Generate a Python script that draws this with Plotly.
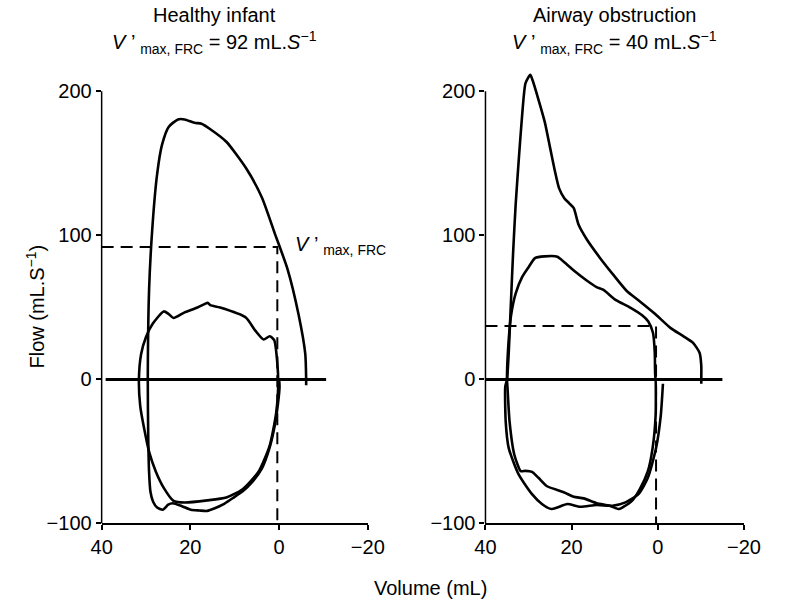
import plotly.graph_objects as go

W, H = 786, 613
FONT = "Liberation Sans, Arial, Helvetica, sans-serif"

# ---------------- data (volume mL, flow mL/s) ----------------
healthy_forced_vol = [0.0, -0.1, 0.3, 1.0, 2.2, 3.9, 6.0, 8.2, 10.5, 12.6, 14.5, 16.2, 18.0, 19.9, 21.9, 24.0, 25.0, 26.2, 27.5, 28.4, 29.0, 29.3, 29.5, 29.6,
                      29.3, 28.5, 27.5, 26.4, 24.9, 22.8, 21.3, 19.1, 17.5, 15.5, 11.9, 7.5, 3.9, 1.0, -1.9,
                      -4.4, -5.9, -6.1, -6.1]
healthy_forced_flow = [0, -5, -18, -32.3, -48, -61.9, -71, -77.7, -82.5, -86.8, -89.5, -91.3, -91, -90.5, -88, -86, -87, -90.5, -89, -85, -78, -65, -40, 0,
                       63, 108.4, 142.4, 162.8, 175.3, 180.5, 180.5, 178.2, 177.5, 173.7, 165, 146.9, 126.5, 101.6, 76.6,
                       44.9, 17.7, 0, -4]

healthy_tidal_vol = [0.2, 0.65, 2.1, 4.6, 8.3, 11.9, 16.2, 21.3, 23.8, 26.0, 27.8, 29.3, 30.4, 31.3, 31.6,
                     31.1, 30.0, 28.5, 26.0, 24.9, 23.8, 21.3, 18.4, 16.6, 16.1, 15.5, 13.3, 7.5, 5.4, 3.5, 2.1, 1.1, 0.4, 0.2]
healthy_tidal_flow = [-5, -23.1, -45.8, -63.9, -76.4, -82, -84, -85.5, -84.3, -75.3, -63.9, -50.3, -34.5, -18.6, 0,
                      17.7, 29.5, 38.6, 47.2, 45.4, 42.6, 46.5, 49.9, 52.6, 53.2, 51.5, 49.9, 43, 34, 27.7, 30, 27.2, 11.3, -5]

obstr_forced_vol = [-1.2, -0.7, 0.4, 2.3, 4.5, 7.5, 10.5, 14.2, 18.0, 21.0, 23.2, 24.7, 26.9, 29.2, 32.3, 34.6, 35.3, 35.4,
                    35.0, 34.6, 34.1, 33.6, 33.0, 32.2, 31.5, 30.7, 29.6, 29.1, 27.7, 26.2, 25.1, 24.0, 22.9, 21.7, 20.6, 19.5,
                    18.4, 16.5, 13.5, 10.5, 7.2, 4.5, 0.8, -3.0, -6.0, -8.2, -9.7, -10.1, -10.1, -10.1]
obstr_forced_flow = [-3, -24.9, -47.7, -68.3, -79.7, -85.4, -87.7, -87.2, -88.4, -86.5, -88.8, -90, -86.5, -79.7, -66, -47.7, -29.5, -5,
                     0, 18.5, 52.7, 87, 121, 155.5, 182.9, 205.7, 211.4, 208, 194.3, 178.3, 162.3, 146.3, 132.6, 125.8, 122.4, 118.9,
                     107.5, 97.3, 84.7, 73.3, 61.4, 55, 45.9, 35.6, 29.9, 25.3, 18.5, 9.4, 0, -3]

obstr_tidal_vol = [0.5, 0.5, 1.2, 2.3, 4.2, 6.0, 7.9, 9.0, 11.2, 14.2, 17.2, 19.5, 21.7, 25.8, 27.7, 29.2, 30.7, 31.8, 33.3, 34.4, 34.9,
                   35.0, 34.8, 34.1, 33.0, 31.5, 30.0, 28.5, 26.3, 23.3, 21.7, 19.5, 16.5, 14.2, 12.7, 9.7, 6.7, 3.7, 2.2, 1.1, 0.7, 0.6, 0.5]
obstr_tidal_flow = [3, -24.9, -47.7, -63.7, -76.3, -84.3, -88.4, -90, -87.7, -86, -82.6, -81.5, -78.5, -74, -68.3, -64.2, -63.5, -63.7, -52.3, -29.5, -5,
                    0, 18.5, 43.6, 59.6, 71, 77.9, 84.2, 85.4, 85.2, 81.3, 75.6, 68.7, 64.1, 62.3, 55, 50.4, 44.7, 40.2, 32.2, 18.5, 0, 3]

zero_left_vol = [39.1, -10.6]
zero_right_vol = [40, -15]
zero_flow = [0, 0]

vmax_left = 92     # V'max,FRC (plotted level)
vmax_right = 37
frc_vol_left = 0.4
frc_vol_right = 0.4

titles = ["Healthy infant", "Airway obstruction"]
title_values = [92, 40]

x_ticks = [40, 20, 0, -20]
y_ticks = [-100, 0, 100, 200]

# ---------------- figure ----------------
fig = go.Figure()
line = dict(color="black", width=2.6, shape="spline", smoothing=0.6)

def add(x, y, ax, **kw):
    fig.add_trace(go.Scatter(x=x, y=y, mode="lines", xaxis="x" + ax, yaxis="y" + ax,
                             showlegend=False, hoverinfo="skip", **kw))

add(zero_left_vol, zero_flow, "", line=dict(color="black", width=3))
add(healthy_tidal_vol, healthy_tidal_flow, "", line=line)
add(healthy_forced_vol, healthy_forced_flow, "", line=line)
add([40, frc_vol_left, frc_vol_left], [vmax_left, vmax_left, -100], "",
    line=dict(color="black", width=2, dash="12px,7px"))

add(zero_right_vol, zero_flow, "2", line=dict(color="black", width=3))
add(obstr_tidal_vol, obstr_tidal_flow, "2", line=line)
add(obstr_forced_vol, obstr_forced_flow, "2", line=line)
add([40, frc_vol_right, frc_vol_right], [vmax_right, vmax_right, -100], "2",
    line=dict(color="black", width=2, dash="12px,7px"))

ydom = [(H - 533) / H, (H - 71) / H]
yrange = [-100, 215]
xd1 = [94 / W, 370 / W]
xd2 = [492 / W, 760 / W]

xax = dict(range=[40, -20], tickvals=x_ticks, showline=True, linecolor="black", linewidth=1.5,
           ticks="outside", ticklen=5, tickwidth=1.5, tickcolor="black", showgrid=False, zeroline=False,
           tickfont=dict(family=FONT, size=20, color="black"), fixedrange=True)
yax = dict(range=yrange, domain=ydom, tickvals=y_ticks, showline=False,
           ticks="outside", ticklen=5, tickwidth=1.5, tickcolor="black", showgrid=False, zeroline=False,
           tickfont=dict(family=FONT, size=20, color="black"), fixedrange=True)

fig.update_layout(
    width=W, height=H, autosize=False,
    margin=dict(l=0, r=0, t=0, b=0),
    paper_bgcolor="white", plot_bgcolor="white",
    font=dict(family=FONT, size=20, color="black"),
    xaxis=dict(domain=xd1, anchor="y", **xax),
    yaxis=dict(anchor="x", **yax),
    xaxis2=dict(domain=xd2, anchor="y2", **xax),
    yaxis2=dict(anchor="x2", **yax),
)

# y-axis lines from -100 to 200 only
for xd, yr in ((xd1, "y"), (xd2, "y2")):
    fig.add_shape(type="line", xref="paper", yref=yr, x0=xd[0], x1=xd[0], y0=y_ticks[0], y1=y_ticks[-1],
                  line=dict(color="black", width=1.5))

ann = []
for cx, t, v in ((211, titles[0], title_values[0]), (626, titles[1], title_values[1])):
    ann.append(dict(x=cx / W, y=(H - 15) / H, xref="paper", yref="paper", text=t, showarrow=False,
                    xanchor="center", yanchor="middle", font=dict(size=20)))
    ann.append(dict(x=cx / W, y=(H - 43) / H, xref="paper", yref="paper",
                    text="<i>V</i> ’ <sub>max, FRC</sub> = %d mL.<i>S</i><sup>−1</sup>" % v, showarrow=False,
                    xanchor="center", yanchor="middle", font=dict(size=20)))
ann.append(dict(x=25 / W, y=(H - 312) / H, xref="paper", yref="paper", text="Flow (mL.S<sup>−1</sup>)",
                textangle=-90, showarrow=False, xanchor="center", yanchor="middle", font=dict(size=20)))
ann.append(dict(x=435 / W, y=(H - 599) / H, xref="paper", yref="paper", text="Volume (mL)",
                showarrow=False, xanchor="center", yanchor="middle", font=dict(size=20)))
ann.append(dict(x=292 / W, y=(H - 250) / H, xref="paper", yref="paper",
                text="<i>V</i> ’ <sub>max, FRC</sub>", showarrow=False,
                xanchor="left", yanchor="middle", font=dict(size=20)))
fig.update_layout(annotations=ann)

fig.write_html("out.html")
